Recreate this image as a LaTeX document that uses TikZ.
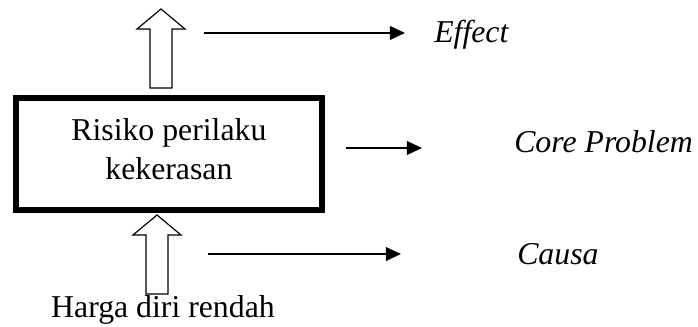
\documentclass[tikz,border=0pt]{standalone}
\usepackage{fontspec}
\setmainfont{Liberation Serif}
\usetikzlibrary{arrows.meta, positioning}

\begin{document}
\begin{tikzpicture}[x=0.025cm, y=-0.025cm,
    every node/.style={font=\fontsize{22.6pt}{27.6pt}\selectfont},
    riskbox/.style={rectangle, draw, line width=4.2pt, minimum width=7.64cm,
                    minimum height=2.8cm, align=center, text depth=0.27cm, inner sep=0pt},
    tag/.style={inner sep=0pt, anchor=base west, font=\fontsize{22.6pt}{27.6pt}\selectfont\itshape},
    flow/.style={-{Triangle[length=0.375cm, width=0.34cm]}, line width=1.2pt},
    hollowup/.pic={\draw[line width=0.85pt] (0,0) -- (24,20) -- (11,20) -- (11,79)
                   -- (-11,79) -- (-11,20) -- (-24,20) -- cycle;}]
    \useasboundingbox (0,0) rectangle (698,327);

    \node[riskbox] (risk) at (168.9,154) {Risiko perilaku\\kekerasan};
    \node[inner sep=0pt, anchor=base] (harga) at (163,318) {Harga diri rendah};

    \pic (up1) at (161,9) {hollowup};
    \pic (up2) at (157,215) {hollowup};

    \node[tag] (effect) at (434,43) {Effect};
    \node[tag] (core) at (514,153) {Core Problem};
    \node[tag] (causa) at (517,265) {Causa};

    \coordinate (e0) at (204,33);
    \coordinate (c0) at (346,148);
    \coordinate (k0) at (208,254);

    \draw[flow, shorten >=0.725cm] (e0) -- (e0 -| effect.west);
    \draw[flow, shorten >=2.3cm] (c0) -- (c0 -| core.west);
    \draw[flow, shorten >=2.9cm] (k0) -- (k0 -| causa.west);
\end{tikzpicture}
\end{document}
